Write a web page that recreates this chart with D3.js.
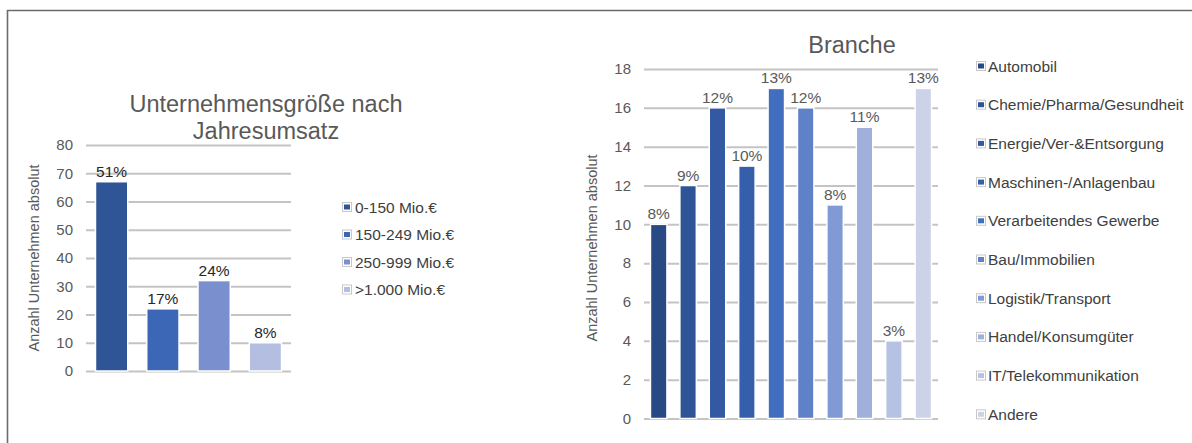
<!DOCTYPE html>
<html>
<head>
<meta charset="utf-8">
<script src="https://cdn.jsdelivr.net/npm/d3@7"></script>
<style>
  html, body { margin: 0; padding: 0; background: #fff; }
  svg { display: block; font-family: "Liberation Sans", Arial, sans-serif; }
</style>
</head>
<body>
<svg id="chart" width="1192" height="443"></svg>
<script>
// Unternehmensgröße nach Jahresumsatz
const sizeCategories = ["0-150 Mio.€", "150-249 Mio.€", "250-999 Mio.€", ">1.000 Mio.€"];
const sizeValues = [67, 22, 32, 10];
const sizeColors = ["#2F5597", "#3C67B7", "#7A90CE", "#B3BEE0"];
const sizeTicks = [0, 10, 20, 30, 40, 50, 60, 70, 80];

// Branche
const branchCategories = [
  "Automobil", "Chemie/Pharma/Gesundheit", "Energie/Ver-&Entsorgung",
  "Maschinen-/Anlagenbau", "Verarbeitendes Gewerbe", "Bau/Immobilien",
  "Logistik/Transport", "Handel/Konsumgüter", "IT/Telekommunikation", "Andere"
];
const branchValues = [10, 12, 16, 13, 17, 16, 11, 15, 4, 17];
const branchColors = ["#274A84", "#2E5497", "#3259A2", "#365FAB", "#416EBE",
                      "#5E81C8", "#8199D4", "#A0AFDB", "#B6C2E3", "#CCD3E8"];
const branchTicks = [0, 2, 4, 6, 8, 10, 12, 14, 16, 18];

const svg = d3.select("#chart");

// frame lines along top and left edge
svg.append("line").attr("x1", 7).attr("x2", 1192).attr("y1", 10.5).attr("y2", 10.5)
  .attr("stroke", "#6b6b6b").attr("stroke-width", 1.6);
svg.append("line").attr("x1", 7.5).attr("x2", 7.5).attr("y1", 10).attr("y2", 443)
  .attr("stroke", "#6b6b6b").attr("stroke-width", 1.6);

function barChart(opts) {
  const g = svg.append("g");
  const total = d3.sum(opts.values);
  const x = d3.scaleBand().domain(opts.categories)
    .range([opts.x0, opts.x1]).paddingInner(opts.pad).paddingOuter(opts.pad / 2);
  const y = d3.scaleLinear().domain([0, opts.max]).range([opts.y0, opts.y1]);

  // gridlines + tick labels
  const axis = d3.axisLeft(y).tickValues(opts.ticks).tickSize(-(opts.x1 - opts.x0)).tickPadding(13);
  const ag = g.append("g").attr("transform", `translate(${opts.x0},0)`).call(axis);
  ag.select(".domain").remove();
  ag.selectAll(".tick line").attr("stroke", "#C4C4C4").attr("stroke-width", 2);
  ag.selectAll(".tick text").attr("fill", "#595959")
    .style("font-size", "15px").style("font-family", "Liberation Sans, Arial, sans-serif");

  // bars
  g.selectAll("rect.bar").data(opts.values).join("rect")
    .attr("class", "bar")
    .attr("x", (d, i) => x(opts.categories[i]))
    .attr("width", x.bandwidth())
    .attr("y", d => y(d))
    .attr("height", d => y(0) - y(d))
    .attr("fill", (d, i) => opts.colors[i])
    .attr("stroke", "#fff").attr("stroke-width", 1.5);

  // percentage labels
  g.selectAll("text.lbl").data(opts.values).join("text")
    .attr("class", "lbl")
    .attr("x", (d, i) => x(opts.categories[i]) + x.bandwidth() / 2)
    .attr("y", d => y(d) - 5)
    .attr("text-anchor", "middle")
    .attr("fill", opts.labelColor)
    .style("font-size", "15.5px")
    .text(d => Math.round(d / total * 100) + "%");

  // y axis title
  g.append("text")
    .attr("transform", `translate(${opts.ytx},${opts.yty}) rotate(-90)`)
    .attr("text-anchor", "middle")
    .attr("fill", "#595959")
    .style("font-size", "14.5px")
    .text("Anzahl Unternehmen absolut");

  // chart title
  const t = g.append("text").attr("text-anchor", "middle").attr("fill", "#595959")
    .style("font-size", "23.5px");
  opts.title.forEach((line, i) => {
    t.append("tspan").attr("x", opts.titleX).attr("y", opts.titleY + i * 27).text(line);
  });

  // legend
  const lg = g.selectAll("g.leg").data(opts.categories).join("g")
    .attr("class", "leg")
    .attr("transform", (d, i) => `translate(${opts.legX},${opts.legY + i * opts.legStep})`);
  lg.append("rect").attr("x", -4.5).attr("y", -4.5).attr("width", 9).attr("height", 9)
    .attr("fill", "#fff").attr("stroke", "#C8C8C8").attr("stroke-width", 1);
  lg.append("rect").attr("x", -3).attr("y", -2.5).attr("width", 6).attr("height", 5)
    .attr("fill", (d, i) => opts.colors[i]);
  lg.append("text").attr("x", opts.legTextDx).attr("y", 5.5)
    .attr("fill", "#404040").style("font-size", "15.5px").text(d => d);
}

barChart({
  categories: sizeCategories, values: sizeValues, colors: sizeColors, ticks: sizeTicks,
  max: 80, x0: 86, x1: 291, y0: 371, y1: 145, pad: 0.37,
  labelColor: "#262626",
  ytx: 39, yty: 258,
  title: ["Unternehmensgröße nach", "Jahresumsatz"], titleX: 266, titleY: 112,
  legX: 347, legY: 207, legStep: 27.5, legTextDx: 8
});

barChart({
  categories: branchCategories, values: branchValues, colors: branchColors, ticks: branchTicks,
  max: 18, x0: 644, x1: 938, y0: 418.5, y1: 69, pad: 0.44,
  labelColor: "#595959",
  ytx: 597, yty: 248,
  title: ["Branche"], titleX: 852, titleY: 53,
  legX: 981, legY: 66, legStep: 38.7, legTextDx: 7
});
</script>
</body>
</html>
